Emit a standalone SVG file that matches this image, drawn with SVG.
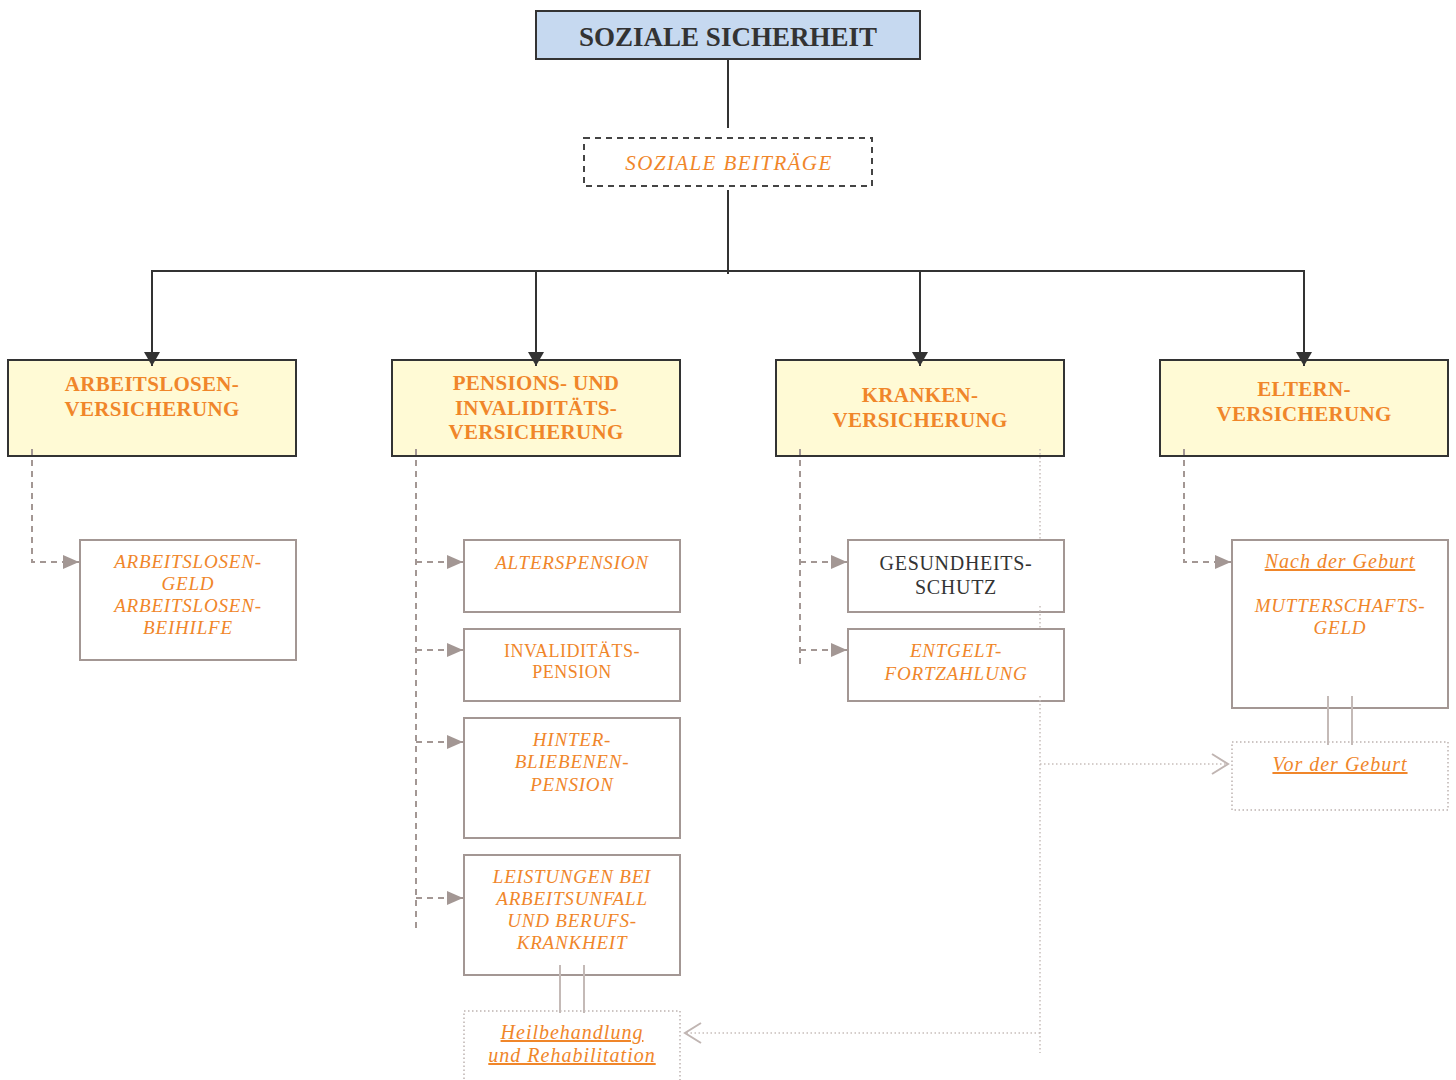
<svg xmlns="http://www.w3.org/2000/svg" width="1456" height="1080" viewBox="0 0 1456 1080">
<style>
text{font-family:"Liberation Serif","Times New Roman",serif;text-anchor:middle}
.title{font-size:27px;font-weight:bold;fill:#333}
.head{font-size:21px;font-weight:bold;fill:#f0862a;letter-spacing:0.3px}
.it{font-size:19px;font-style:italic;fill:#f0862a;letter-spacing:0.8px}
.ul{font-size:20px;letter-spacing:1px;text-decoration:underline}
.rg{font-size:18px;fill:#f0862a;letter-spacing:0.5px}
.dk{font-size:20px;fill:#333;letter-spacing:0.7px}
.main{fill:#fffad5;stroke:#333;stroke-width:2}
.child{fill:#fff;stroke:#a39794;stroke-width:2}
.dot{fill:#fff;stroke:#bdb3b0;stroke-width:1.5;stroke-dasharray:1.5 2.5}
.solid{stroke:#333;stroke-width:2;fill:none}
.dash{stroke:#a39794;stroke-width:2;stroke-dasharray:6 5;fill:none}
.dotl{stroke:#c8bebb;stroke-width:1.5;stroke-dasharray:1.5 2.5;fill:none}
.pair{stroke:#c4bab7;stroke-width:2;fill:none}
</style>
<defs>
<marker id="ad" viewBox="0 0 14 16" refX="14" refY="8" markerWidth="14" markerHeight="16" markerUnits="userSpaceOnUse" orient="auto">
<path d="M0,0 L14,8 L0,16 Z" fill="#333"/>
</marker>
<marker id="ag" viewBox="0 0 16 14" refX="16" refY="7" markerWidth="16" markerHeight="14" markerUnits="userSpaceOnUse" orient="auto">
<path d="M0,0 L16,7 L0,14 Z" fill="#a39794"/>
</marker>
<marker id="ao" viewBox="0 0 20 24" refX="18" refY="12" markerWidth="20" markerHeight="24" markerUnits="userSpaceOnUse" orient="auto">
<path d="M2,2 L18,12 L2,22" fill="none" stroke="#c0b5b2" stroke-width="2"/>
</marker>
</defs>

<g id="n-soziale-sicherheit">
<rect x="536" y="11" width="384" height="48" fill="#c6d9f0" stroke="#333" stroke-width="2"/>
<text class="title" x="728" y="46">SOZIALE SICHERHEIT</text>
</g>
<g id="n-soziale-beitraege">
<rect x="584" y="138" width="288" height="48" fill="#fff" stroke="#444" stroke-width="2" stroke-dasharray="6 5"/>
<text class="it" style="font-size:21px;letter-spacing:1.4px" x="729" y="170">SOZIALE BEITRÄGE</text>
</g>

<g id="n-arbeitslosenversicherung">
<rect class="main" x="8" y="360" width="288" height="96"/>
<text class="head" x="152" y="391">ARBEITSLOSEN-</text>
<text class="head" x="152" y="416">VERSICHERUNG</text>
</g>
<g id="n-pensionsversicherung">
<rect class="main" x="392" y="360" width="288" height="96"/>
<text class="head" x="536" y="390">PENSIONS- UND</text>
<text class="head" x="536" y="415">INVALIDITÄTS-</text>
<text class="head" x="536" y="439">VERSICHERUNG</text>
</g>
<g id="n-krankenversicherung">
<rect class="main" x="776" y="360" width="288" height="96"/>
<text class="head" x="920" y="402">KRANKEN-</text>
<text class="head" x="920" y="427">VERSICHERUNG</text>
</g>
<g id="n-elternversicherung">
<rect class="main" x="1160" y="360" width="288" height="96"/>
<text class="head" x="1304" y="396">ELTERN-</text>
<text class="head" x="1304" y="421">VERSICHERUNG</text>
</g>

<g id="n-arbeitslosengeld">
<rect class="child" x="80" y="540" width="216" height="120"/>
<text class="it" x="188" y="568">ARBEITSLOSEN-</text>
<text class="it" x="188" y="590">GELD</text>
<text class="it" x="188" y="612">ARBEITSLOSEN-</text>
<text class="it" x="188" y="634">BEIHILFE</text>
</g>

<g id="n-alterspension">
<rect class="child" x="464" y="540" width="216" height="72"/>
<text class="it" x="572" y="569">ALTERSPENSION</text>
</g>
<g id="n-invaliditaetspension">
<rect class="child" x="464" y="629" width="216" height="72"/>
<text class="rg" x="572" y="657">INVALIDITÄTS-</text>
<text class="rg" x="572" y="678">PENSION</text>
</g>
<g id="n-hinterbliebenenpension">
<rect class="child" x="464" y="718" width="216" height="120"/>
<text class="it" x="572" y="746">HINTER-</text>
<text class="it" x="572" y="768">BLIEBENEN-</text>
<text class="it" x="572" y="791">PENSION</text>
</g>
<g id="n-arbeitsunfall">
<rect class="child" x="464" y="855" width="216" height="120"/>
<text class="it" x="572" y="883">LEISTUNGEN BEI</text>
<text class="it" x="572" y="905">ARBEITSUNFALL</text>
<text class="it" x="572" y="927">UND BERUFS-</text>
<text class="it" x="572" y="949">KRANKHEIT</text>
</g>
<g id="n-heilbehandlung">
<rect class="dot" x="464" y="1011" width="216" height="90"/>
<text class="it ul" x="572" y="1039">Heilbehandlung</text>
<text class="it ul" x="572" y="1062">und Rehabilitation</text>
</g>

<g id="n-gesundheitsschutz">
<rect class="child" x="848" y="540" width="216" height="72"/>
<text class="dk" x="956" y="570">GESUNDHEITS-</text>
<text class="dk" x="956" y="594">SCHUTZ</text>
</g>
<g id="n-entgeltfortzahlung">
<rect class="child" x="848" y="629" width="216" height="72"/>
<text class="it" x="956" y="657">ENTGELT-</text>
<text class="it" x="956" y="680">FORTZAHLUNG</text>
</g>

<g id="n-nach-der-geburt">
<rect class="child" x="1232" y="540" width="216" height="168"/>
<text class="it ul" x="1340" y="568">Nach der Geburt</text>
<text class="it" x="1340" y="612">MUTTERSCHAFTS-</text>
<text class="it" x="1340" y="634">GELD</text>
</g>
<g id="n-vor-der-geburt">
<rect class="dot" x="1232" y="742" width="216" height="68"/>
<text class="it ul" x="1340" y="771">Vor der Geburt</text>
</g>

<g id="connectors">
<line class="solid" x1="728" y1="59" x2="728" y2="128"/>
<line class="solid" x1="728" y1="190" x2="728" y2="274"/>
<line class="solid" x1="151" y1="271" x2="1305" y2="271"/>
<line class="solid" x1="152" y1="271" x2="152" y2="366" marker-end="url(#ad)"/>
<line class="solid" x1="536" y1="271" x2="536" y2="366" marker-end="url(#ad)"/>
<line class="solid" x1="920" y1="271" x2="920" y2="366" marker-end="url(#ad)"/>
<line class="solid" x1="1304" y1="271" x2="1304" y2="366" marker-end="url(#ad)"/>

<polyline class="dash" points="32,449 32,562 79,562" marker-end="url(#ag)"/>
<line class="dash" x1="416" y1="449" x2="416" y2="930"/>
<line class="dash" x1="416" y1="562" x2="463" y2="562" marker-end="url(#ag)"/>
<line class="dash" x1="416" y1="650" x2="463" y2="650" marker-end="url(#ag)"/>
<line class="dash" x1="416" y1="742" x2="463" y2="742" marker-end="url(#ag)"/>
<line class="dash" x1="416" y1="898" x2="463" y2="898" marker-end="url(#ag)"/>
<line class="dash" x1="800" y1="449" x2="800" y2="665"/>
<line class="dash" x1="800" y1="562" x2="847" y2="562" marker-end="url(#ag)"/>
<line class="dash" x1="800" y1="650" x2="847" y2="650" marker-end="url(#ag)"/>
<polyline class="dash" points="1184,449 1184,562 1231,562" marker-end="url(#ag)"/>

<line class="dotl" x1="1040" y1="449" x2="1040" y2="539"/>
<line class="dotl" x1="1040" y1="606" x2="1040" y2="628"/>
<line class="dotl" x1="1040" y1="696" x2="1040" y2="1053"/>
<line class="dotl" x1="1040" y1="764" x2="1228" y2="764" marker-end="url(#ao)"/>
<line class="dotl" x1="1040" y1="1033" x2="685" y2="1033" marker-end="url(#ao)"/>

<line class="pair" x1="560" y1="965" x2="560" y2="1013"/>
<line class="pair" x1="584" y1="965" x2="584" y2="1013"/>
<line class="pair" x1="1328" y1="696" x2="1328" y2="745"/>
<line class="pair" x1="1352" y1="696" x2="1352" y2="745"/>
</g>
</svg>
